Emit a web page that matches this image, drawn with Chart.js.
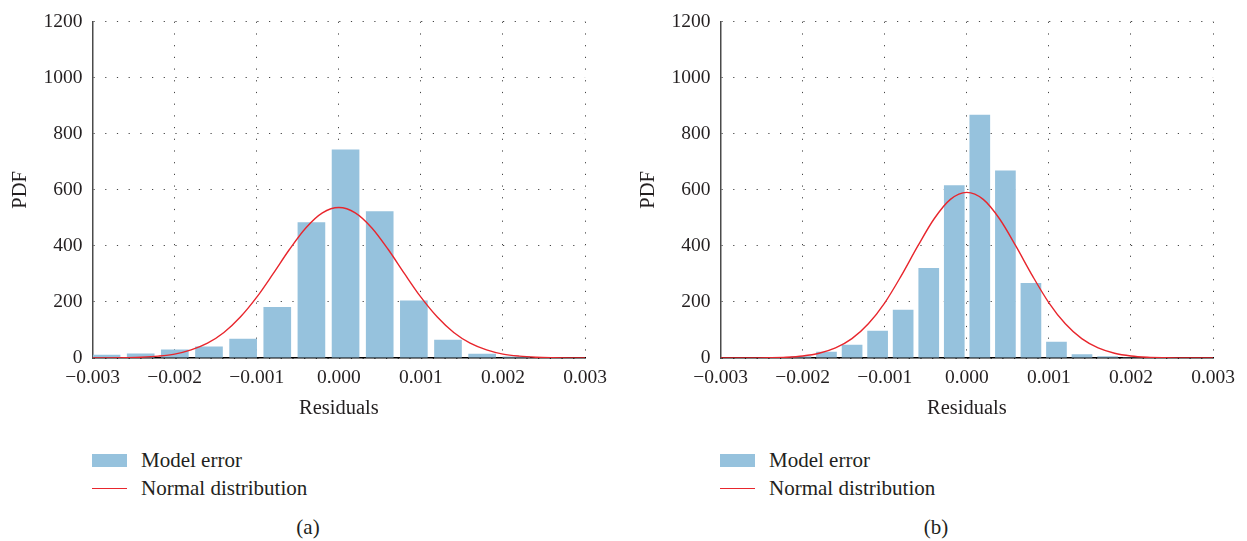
<!DOCTYPE html>
<html>
<head>
<meta charset="utf-8">
<script src="https://cdn.jsdelivr.net/npm/chart.js@4.4.1/dist/chart.umd.min.js"></script>
<style>
  body { margin: 0; background: #fff; font-family: "Liberation Serif", "Times New Roman", serif; color: #231f20; }
  .page { position: relative; width: 1247px; height: 541px; overflow: hidden; }
  .panel { position: absolute; top: 0; width: 615px; height: 541px; }
  .panel canvas { position: absolute; left: 0; top: 0; }
  .swatch-bar { position: absolute; left: 92px; top: 454px; width: 35px; height: 13px; background: #96c2dd; }
  .swatch-line { position: absolute; left: 92px; top: 488px; width: 35px; height: 1.4px; background: #e8262d; }
  .legend-text { position: absolute; left: 141px; font-size: 21px; line-height: 24px; white-space: nowrap; }
  .caption { position: absolute; top: 514px; width: 60px; text-align: center; font-size: 21px; line-height: 26px; }
</style>
</head>
<body>
<div class="page">
  <div class="panel" style="left:0px">
    <canvas id="chartA" width="615" height="430"></canvas>
    <div class="swatch-bar"></div>
    <div class="legend-text" style="top:448px">Model error</div>
    <div class="swatch-line"></div>
    <div class="legend-text" style="top:476px">Normal distribution</div>
    <div class="caption" style="left:278px">(a)</div>
  </div>
  <div class="panel" style="left:628px">
    <canvas id="chartB" width="615" height="430"></canvas>
    <div class="swatch-bar"></div>
    <div class="legend-text" style="top:448px">Model error</div>
    <div class="swatch-line"></div>
    <div class="legend-text" style="top:476px">Normal distribution</div>
    <div class="caption" style="left:278px">(b)</div>
  </div>
</div>
<script>
// axis ticks
const xTicks = [-0.003, -0.002, -0.001, 0, 0.001, 0.002, 0.003];
const yTicks = [0, 200, 400, 600, 800, 1000, 1200];

// (a) histogram of residuals
const binsA = [-0.00283, -0.002414, -0.001998, -0.001582, -0.001166, -0.00075, -0.000334,
               0.000082, 0.000498, 0.000914, 0.00133, 0.001746, 0.002162, 0.002578];
const errorA = [12, 16, 30, 41, 69, 182, 484, 744, 524, 205, 65, 15, 5, 2];

// (b) histogram of residuals
const binsB = [-0.002021, -0.00171, -0.001398, -0.001087, -0.000776, -0.000464, -0.000153,
               0.000158, 0.00047, 0.000781, 0.001092, 0.001403, 0.001715, 0.002026];
const errorB = [6, 22, 47, 97, 172, 321, 616, 868, 669, 268, 58, 13, 6, 3];

// fitted normal curves
const curveX = [-0.003, -0.0028, -0.0026, -0.0024, -0.0022, -0.002, -0.0018, -0.0016, -0.0014, -0.0012,
                -0.001, -0.0008, -0.0006, -0.0004, -0.0002, 0, 0.0002, 0.0004, 0.0006, 0.0008,
                0.001, 0.0012, 0.0014, 0.0016, 0.0018, 0.002, 0.0022, 0.0024, 0.0026, 0.0028, 0.003];
const normalA = [0, 0.4, 1.2, 2.9, 6.7, 14, 29, 53, 91, 146, 217, 301, 388, 465, 518, 537,
                 518, 465, 388, 301, 217, 146, 91, 53, 29, 14, 6.7, 2.9, 1.2, 0.4, 0];
const normalB = [0, 0, 0.4, 1.1, 2.9, 7.3, 17, 36, 69, 122, 197, 293, 398, 496, 566, 591,
                 566, 496, 398, 293, 197, 122, 69, 36, 17, 7.3, 2.9, 1.1, 0.4, 0, 0];

const BAR_BLUE = '#96c2dd';
const CURVE_RED = '#e8262d';
const TEXT = '#231f20';
const GRID_DOTS = '#444';
const SERIF = '"Liberation Serif", "Times New Roman", serif';

Chart.defaults.font.family = SERIF;
Chart.defaults.color = TEXT;

const formatResidual = v => {
    const s = Math.abs(v).toFixed(3);
    return v < -1e-9 ? '\u2212' + s : s;
};

function drawHistogram(canvasId, bins, counts, normal) {
    const ctx = document.getElementById(canvasId).getContext('2d');
    return new Chart(ctx, {
        type: 'bar',
        data: {
            datasets: [{
                type: 'line',
                label: 'Normal distribution',
                data: curveX.map((x, i) => ({ x, y: normal[i] })),
                borderColor: CURVE_RED,
                borderWidth: 1.4,
                pointRadius: 0,
                cubicInterpolationMode: 'monotone',
                fill: false,
                order: 0
            }, {
                label: 'Model error',
                data: bins.map((x, i) => ({ x, y: counts[i] })),
                backgroundColor: BAR_BLUE,
                borderWidth: 0,
                barPercentage: 0.81,
                categoryPercentage: 1,
                order: 1
            }]
        },
        options: {
            responsive: false,
            animation: false,
            devicePixelRatio: 1,
            layout: {
                padding: { left: 4, right: 28, top: 21, bottom: 9 }
            },
            plugins: {
                legend: { display: false },
                tooltip: { enabled: false }
            },
            scales: {
                x: {
                    type: 'linear',
                    offset: false,
                    min: -0.003,
                    max: 0.003,
                    afterBuildTicks: scale => { scale.ticks = xTicks.map(value => ({ value })); },
                    ticks: {
                        callback: formatResidual,
                        font: { size: 19.5 },
                        color: TEXT,
                        padding: 8,
                        maxRotation: 0,
                        autoSkip: false
                    },
                    grid: { color: GRID_DOTS, lineWidth: 1, drawTicks: false, offset: false },
                    border: { display: true, color: '#000', width: 1.5, dash: [1.2, 10.5] },
                    title: {
                        display: true,
                        text: 'Residuals',
                        font: { size: 20.5 },
                        color: TEXT,
                        padding: { top: -1, bottom: 0 }
                    }
                },
                y: {
                    min: 0,
                    max: 1200,
                    afterBuildTicks: scale => { scale.ticks = yTicks.map(value => ({ value })); },
                    ticks: {
                        callback: v => String(v),
                        font: { size: 19.5 },
                        color: TEXT,
                        padding: 10
                    },
                    grid: { color: GRID_DOTS, lineWidth: 1, drawTicks: false },
                    border: { display: true, color: '#4a4a4a', width: 1.5, dash: [1.2, 10.5] },
                    title: {
                        display: true,
                        text: 'PDF',
                        font: { size: 20.5 },
                        color: TEXT,
                        padding: { top: 4, bottom: 1 }
                    }
                }
            }
        }
    });
}

drawHistogram('chartA', binsA, errorA, normalA);
drawHistogram('chartB', binsB, errorB, normalB);
</script>
</body>
</html>
